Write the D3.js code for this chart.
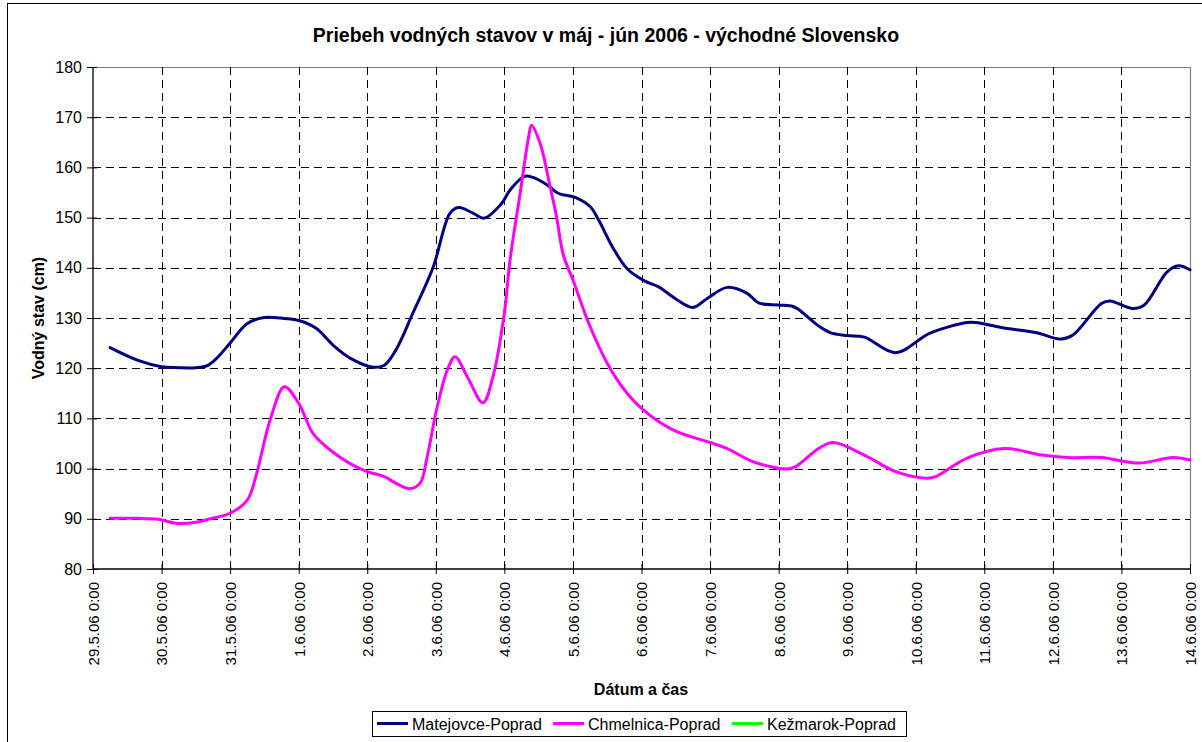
<!DOCTYPE html>
<html><head><meta charset="utf-8">
<script src="https://cdn.jsdelivr.net/npm/d3@7"></script>
<style>body{margin:0;background:#fff}svg{display:block;font-family:Arial,"Liberation Sans",sans-serif}</style>
</head><body><svg id="c" width="1202" height="742"></svg>
<script>
const title = "Priebeh vodných stavov v máj - jún 2006 - východné Slovensko";
const xTitle = "Dátum a čas";
const yTitle = "Vodný stav (cm)";
const seriesNames = ["Matejovce-Poprad","Chmelnica-Poprad","Kežmarok-Poprad"];
const seriesColors = ["#000080","#FF00FF","#00FF00"];
const yTicks = [80,90,100,110,120,130,140,150,160,170,180];
const xTickDates = ["2006-05-29 00:00","2006-05-30 00:00","2006-05-31 00:00","2006-06-01 00:00","2006-06-02 00:00","2006-06-03 00:00","2006-06-04 00:00","2006-06-05 00:00","2006-06-06 00:00","2006-06-07 00:00","2006-06-08 00:00","2006-06-09 00:00","2006-06-10 00:00","2006-06-11 00:00","2006-06-12 00:00","2006-06-13 00:00","2006-06-14 00:00"];

const matTimes = ["2006-05-29 06:00","2006-05-29 16:00","2006-05-30 00:00","2006-05-30 06:00","2006-05-30 12:00","2006-05-30 16:00","2006-05-30 19:00","2006-05-31 00:00","2006-05-31 06:00","2006-05-31 12:00","2006-05-31 19:00","2006-06-01 00:00","2006-06-01 06:00","2006-06-01 12:00","2006-06-01 18:00","2006-06-02 02:00","2006-06-02 06:00","2006-06-02 10:00","2006-06-02 16:00","2006-06-02 23:00","2006-06-03 05:00","2006-06-03 08:00","2006-06-03 13:00","2006-06-03 17:00","2006-06-03 23:00","2006-06-04 02:00","2006-06-04 07:00","2006-06-04 10:00","2006-06-04 15:00","2006-06-04 19:00","2006-06-05 01:00","2006-06-05 06:00","2006-06-05 09:00","2006-06-05 14:00","2006-06-05 19:00","2006-06-06 01:00","2006-06-06 06:00","2006-06-06 12:00","2006-06-06 18:00","2006-06-06 23:00","2006-06-07 06:00","2006-06-07 13:00","2006-06-07 17:00","2006-06-08 00:00","2006-06-08 05:00","2006-06-08 07:00","2006-06-08 14:00","2006-06-08 18:00","2006-06-09 00:00","2006-06-09 06:00","2006-06-09 17:00","2006-06-10 05:00","2006-06-10 18:00","2006-06-10 21:00","2006-06-11 06:00","2006-06-11 18:00","2006-06-12 03:00","2006-06-12 07:00","2006-06-12 17:00","2006-06-12 20:00","2006-06-13 04:00","2006-06-13 08:00","2006-06-13 16:00","2006-06-13 20:00","2006-06-14 00:00"];
const matValues = [124.1,121.5,120.3,120.1,120.1,120.5,121.8,125,128.9,130.1,129.9,129.5,128,124.6,122,120.2,120.6,123.6,131,140,150.9,152,150.9,149.9,152.8,155.5,158.2,158,156.5,154.8,154,152.2,149.5,144,139.8,137.4,136.2,133.8,132.1,133.9,136.1,134.9,133,132.6,132.3,131.7,128.4,127.1,126.5,126.2,123.1,127,129.1,129.1,128.1,127.1,125.8,126.6,132.9,133.4,131.9,132.6,139.2,140.4,139.6];

const chmTimes = ["2006-05-29 06:00","2006-05-29 16:00","2006-05-29 23:00","2006-05-30 05:00","2006-05-30 12:00","2006-05-30 17:00","2006-05-31 00:00","2006-05-31 06:00","2006-05-31 09:00","2006-05-31 14:00","2006-05-31 19:00","2006-06-01 00:00","2006-06-01 05:00","2006-06-01 11:00","2006-06-01 18:00","2006-06-02 00:00","2006-06-02 06:00","2006-06-02 10:00","2006-06-02 15:00","2006-06-02 18:30","2006-06-02 21:00","2006-06-03 00:15","2006-06-03 04:00","2006-06-03 06:45","2006-06-03 11:00","2006-06-03 16:30","2006-06-03 20:00","2006-06-04 00:00","2006-06-04 02:00","2006-06-04 05:30","2006-06-04 08:30","2006-06-04 09:30","2006-06-04 12:30","2006-06-04 16:00","2006-06-04 18:15","2006-06-04 20:40","2006-06-05 00:00","2006-06-05 06:00","2006-06-05 12:00","2006-06-05 18:00","2006-06-06 00:00","2006-06-06 11:00","2006-06-07 00:00","2006-06-07 06:00","2006-06-07 15:00","2006-06-08 03:00","2006-06-08 06:00","2006-06-08 14:00","2006-06-08 19:00","2006-06-09 06:00","2006-06-09 17:00","2006-06-10 04:00","2006-06-10 07:00","2006-06-10 18:00","2006-06-11 07:00","2006-06-11 20:00","2006-06-12 05:00","2006-06-12 17:00","2006-06-13 06:00","2006-06-13 18:00","2006-06-14 00:00"];
const chmValues = [90.1,90.1,89.9,89.1,89.3,90,91.1,93.7,98.4,109.7,116.3,113,107,103.7,101,99.4,98.4,97.1,96,97.1,102.4,111.7,119.6,122.3,118.3,113.1,118.3,131,141.6,154.8,166.1,168.4,164.8,156.2,150.2,142.5,137.6,128.3,121,115.7,112,107.7,105.2,104,101.4,99.9,100.4,104,105.2,102.7,99.4,98.1,98.4,102.1,104,102.7,102.2,102.2,101.1,102.2,101.7];

const kezTimes = [];
const kezValues = [];

const parse = d3.timeParse("%Y-%m-%d %H:%M");
const svg = d3.select("#c");
const L = 93, R = 1190, T = 67, B = 569;
const xTickVals = xTickDates.map(parse);
const x = d3.scaleTime().domain([xTickVals[0], xTickVals[xTickVals.length-1]]).range([L, R]);
const y = d3.scaleLinear().domain([80,180]).range([B, T]);

// outer border
svg.append("rect").attr("x",7.5).attr("y",3.5).attr("width",1210).attr("height",760)
  .attr("fill","none").attr("stroke","#000").attr("stroke-width",1);

// plot frame (top/right gray)
svg.append("path").attr("d",`M${L},${T+0.5}H${R+0.5}V${B}`).attr("fill","none").attr("stroke","#808080").attr("stroke-width",1.2);

// gridlines
const grid = svg.append("g").attr("shape-rendering","crispEdges");
grid.selectAll("line.h").data(yTicks.filter(v=>v>80 && v<180)).join("line")
  .attr("x1",L).attr("x2",R).attr("y1",d=>Math.round(y(d))+0.5).attr("y2",d=>Math.round(y(d))+0.5)
  .attr("stroke","#000").attr("stroke-dasharray","8,5");
grid.selectAll("line.v").data(xTickVals.slice(1,-1)).join("line")
  .attr("y1",T).attr("y2",B).attr("x1",d=>Math.round(x(d))+0.5).attr("x2",d=>Math.round(x(d))+0.5)
  .attr("stroke","#000").attr("stroke-dasharray","8,5");

// series
const clip = svg.append("clipPath").attr("id","pc").append("rect").attr("x",L).attr("y",T).attr("width",R-L+2).attr("height",B-T);
const line = d3.line().x(d=>x(d[0])).y(d=>y(d[1])).curve(d3.curveCatmullRom.alpha(0.5));
const series = [
  matTimes.map((t,i)=>[parse(t), matValues[i]]),
  chmTimes.map((t,i)=>[parse(t), chmValues[i]]),
  kezTimes.map((t,i)=>[parse(t), kezValues[i]])
];
const lg = svg.append("g").attr("clip-path","url(#pc)");
series.forEach((s,i)=>{ if(s.length) lg.append("path").attr("d",line(s)).attr("fill","none")
  .attr("stroke",seriesColors[i]).attr("stroke-width",3).attr("stroke-linejoin","round").attr("stroke-linecap","round"); });

// axes
const yAxis = svg.append("g").attr("transform",`translate(${L},0)`)
  .call(d3.axisLeft(y).tickValues(yTicks).tickSize(6).tickFormat(d3.format("d")));
yAxis.select(".domain").remove();
yAxis.append("line").attr("x1",0).attr("x2",0).attr("y1",T).attr("y2",B+0.5).attr("stroke","#000").attr("stroke-width",1.3);
yAxis.selectAll(".tick line").attr("x2",4).attr("x1",-6).attr("stroke","#000");
yAxis.selectAll(".tick text").attr("x",-11).attr("font-size",16).attr("fill","#000").attr("font-family","Arial, 'Liberation Sans', sans-serif");

const xAxis = svg.append("g").attr("transform",`translate(0,${B})`)
  .call(d3.axisBottom(x).tickValues(xTickVals).tickSize(6).tickFormat(d3.timeFormat("%-d.%-m.%y %-H:%M")));
xAxis.select(".domain").remove();
xAxis.append("line").attr("x1",L).attr("x2",R+0.5).attr("y1",0).attr("y2",0).attr("stroke","#000").attr("stroke-width",1.3);
xAxis.selectAll(".tick line").attr("y1",-5).attr("y2",5).attr("stroke","#000");
xAxis.selectAll(".tick text").attr("font-size",15).attr("fill","#000")
  .attr("font-family","Arial, 'Liberation Sans', sans-serif")
  .attr("transform","rotate(-90)").attr("text-anchor","end")
  .attr("x",-13).attr("y",0).attr("dy","0.36em");

// titles
svg.append("text").attr("x",606).attr("y",42).attr("text-anchor","middle")
  .attr("font-size",19.5).attr("font-weight","bold").text(title);
svg.append("text").attr("x",641).attr("y",695).attr("text-anchor","middle")
  .attr("font-size",16).attr("font-weight","bold").text(xTitle);
svg.append("text").attr("transform",`translate(44,${(T+B)/2}) rotate(-90)`).attr("text-anchor","middle")
  .attr("font-size",16).attr("font-weight","bold").text(yTitle);

// legend
const leg = svg.append("g");
leg.append("rect").attr("x",372.5).attr("y",711.5).attr("width",534).attr("height",25).attr("fill","#fff").attr("stroke","#000");
const legX = [377, 553, 732];
seriesNames.forEach((n,i)=>{
  leg.append("line").attr("x1",legX[i]).attr("x2",legX[i]+31).attr("y1",723.5).attr("y2",723.5)
    .attr("stroke",seriesColors[i]).attr("stroke-width",3);
  leg.append("text").attr("x",legX[i]+35).attr("y",729.5).attr("font-size",16).text(n);
});
</script></body></html>
